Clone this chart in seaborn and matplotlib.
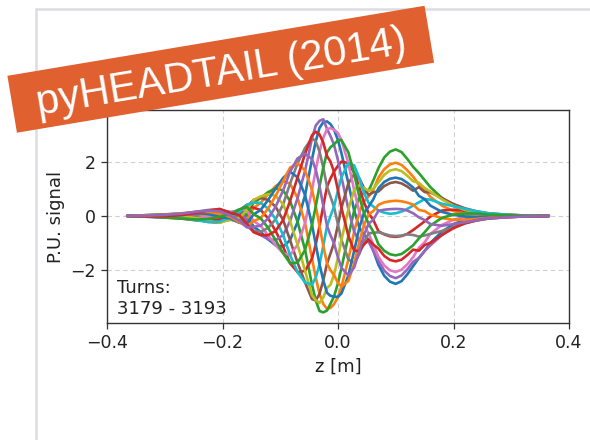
import matplotlib
matplotlib.use("Agg")
import matplotlib.pyplot as plt
from matplotlib.patches import Rectangle
from matplotlib.lines import Line2D
import pandas as pd
import seaborn as sns

# Longitudinal position along the bunch [m]
z_m = [-0.365, -0.33, -0.30, -0.27, -0.245, -0.225, -0.205, -0.186, -0.171, -0.158,
       -0.146, -0.134, -0.121, -0.108, -0.095, -0.083, -0.070, -0.057,
       -0.045, -0.0385, -0.032, -0.0255, -0.019, -0.013, -0.007, 0.0, 0.006,
       0.018, 0.028, 0.037, 0.045, 0.053, 0.061, 0.07, 0.08, 0.09, 0.10,
       0.11, 0.12, 0.13, 0.14, 0.15, 0.16, 0.18, 0.20, 0.22, 0.24,
       0.26, 0.29, 0.32, 0.365]

# Pick-up signal per turn
signal_3179 = [0, -0.03, -0.05, -0.05, -0.02, 0.07, 0.17, 0.14, 0.20, 0.04,
               -0.40, -0.58, -0.86, -1.08, -1.13, -0.89, -0.22, 0.77,
               2.09, 2.75, 3.24, 3.45, 3.48, 3.38, 3.18, 2.79, 2.31,
               1.20, 0.20, -0.43, -0.70, -0.87, -1.27, -1.80, -2.20, -2.42, -2.50,
               -2.40, -2.15, -1.85, -1.55, -1.29, -0.99, -0.58, -0.30, -0.14, -0.05,
               -0.03, -0.02, -0.01, 0]
signal_3180 = [0, 0.03, 0.05, 0.07, 0.05, -0.02, -0.13, -0.13, -0.23, -0.13,
               0.30, 0.48, 0.80, 1.10, 1.28, 1.19, 0.66, -0.26,
               -1.57, -2.27, -2.87, -3.24, -3.42, -3.38, -3.25, -2.98, -2.60,
               -1.60, -0.58, 0.14, 0.53, 0.72, 0.95, 1.41, 1.72, 1.90, 1.96,
               1.88, 1.68, 1.45, 1.15, 0.97, 0.70, 0.38, 0.18, 0.07, 0.02,
               0.01, 0.01, 0, 0]
signal_3181 = [0, 0.03, 0.04, 0.03, -0.02, -0.11, -0.21, -0.14, -0.17, 0.04,
               0.49, 0.66, 0.88, 1.01, 0.94, 0.55, -0.22, -1.25,
               -2.53, -3.11, -3.50, -3.55, -3.48, -3.23, -2.97, -2.47, -1.91,
               -0.74, 0.20, 0.70, 0.85, 0.93, 1.30, 1.76, 2.15, 2.37, 2.45,
               2.35, 2.10, 1.81, 1.58, 1.32, 1.06, 0.66, 0.36, 0.19, 0.09,
               0.05, 0.03, 0.01, 0]
signal_3182 = [0, -0.02, -0.05, -0.10, -0.16, -0.18, -0.13, 0.01, 0.20, 0.41,
               0.30, 0.22, -0.09, -0.55, -1.13, -1.74, -2.07, -2.02,
               -1.57, -1.05, -0.37, 0.37, 1.08, 1.38, 1.63, 1.85, 2.00,
               1.95, 1.60, 1.05, 0.50, 0.10, -0.14, -0.56, -0.68, -0.75, -0.77,
               -0.74, -0.66, -0.52, -0.36, -0.20, -0.02, 0.20, 0.23, 0.19, 0.14,
               0.08, 0.04, 0.02, 0]
signal_3183 = [0, -0.02, -0.03, -0.01, 0.05, 0.15, 0.24, 0.14, 0.13, -0.13,
               -0.55, -0.70, -0.86, -0.89, -0.70, -0.19, 0.66, 1.67,
               2.86, 3.33, 3.50, 3.56, 3.20, 2.94, 2.63, 2.04, 1.43,
               0.25, -0.58, -0.94, -0.96, -0.95, -1.27, -1.65, -2.01, -2.21, -2.29,
               -2.19, -1.97, -1.69, -1.55, -1.29, -1.08, -0.70, -0.41, -0.23, -0.11,
               -0.07, -0.03, -0.01, 0]
signal_3184 = [0, 0.01, -0.01, -0.05, -0.13, -0.22, -0.25, -0.09, 0.03, 0.34,
               0.59, 0.66, 0.59, 0.34, -0.15, -0.89, -1.72, -2.45,
               -3.06, -3.11, -2.87, -2.37, -1.75, -1.38, -1.00, -0.32, 0.30,
               1.20, 1.54, 1.38, 1.03, 0.77, 0.87, 0.90, 1.10, 1.21, 1.25,
               1.20, 1.08, 0.93, 1.06, 0.88, 0.87, 0.66, 0.44, 0.28, 0.17,
               0.10, 0.05, 0.02, 0]
signal_3185 = [0, -0.03, -0.06, -0.08, -0.08, -0.02, 0.08, 0.11, 0.24, 0.21,
               -0.19, -0.36, -0.71, -1.08, -1.37, -1.44, -1.06, -0.26,
               0.96, 1.70, 2.37, 2.87, 3.20, 3.23, 3.18, 3.05, 2.79,
               1.94, 0.95, 0.14, -0.33, -0.64, -1.05, -1.50, -1.82, -2.00, -2.06,
               -1.98, -1.78, -1.52, -1.17, -0.97, -0.66, -0.33, -0.14, -0.03, 0.02,
               0.01, 0.01, 0, 0]
signal_3186 = [0, 0, 0.02, 0.07, 0.15, 0.22, 0.24, 0.07, -0.08, -0.38,
               -0.55, -0.58, -0.44, -0.12, 0.43, 1.19, 1.94, 2.50,
               2.86, 2.75, 2.37, 1.78, 1.08, 0.71, 0.34, -0.32, -0.88,
               -1.60, -1.74, -1.40, -0.96, -0.64, -0.62, -0.60, -0.66, -0.72, -0.74,
               -0.72, -0.68, -0.70, -0.76, -0.72, -0.66, -0.55, -0.41, -0.27, -0.17,
               -0.10, -0.05, -0.02, 0]
signal_3187 = [0, 0.02, 0.02, -0.01, -0.08, -0.18, -0.25, -0.13, -0.08, 0.21,
               0.59, 0.72, 0.80, 0.74, 0.43, -0.19, -1.06, -2.02,
               -2.92, -3.10, -3.20, -3.00, -2.65, -2.53, -2.17, -1.53, -0.88,
               0.25, 0.95, 1.13, 1.03, 0.93, 1.00, 1.24, 1.51, 1.67, 1.72,
               1.65, 1.48, 1.28, 1.22, 1.03, 0.90, 0.61, 0.37, 0.22, 0.14,
               0.08, 0.04, 0.02, 0]
signal_3188 = [0, 0, -0.03, -0.08, -0.16, -0.22, -0.21, -0.04, 0.13, 0.41,
               0.49, 0.48, 0.27, -0.12, -0.70, -1.44, -2.07, -2.45,
               -2.53, -2.27, -1.78, -1.10, -0.37, 0.00, 0.34, 0.94, 1.43,
               1.94, 1.86, 1.38, 0.85, 0.48, 0.35, 0.20, 0.12, 0.08, 0.10,
               0.16, 0.26, 0.38, 0.50, 0.62, 0.60, 0.45, 0.36, 0.26, 0.17,
               0.10, 0.05, 0.02, 0]
signal_3189 = [0, 0.03, 0.06, 0.09, 0.11, 0.07, -0.03, -0.09, -0.25, -0.28,
               0.06, 0.22, 0.59, 1.01, 1.40, 1.63, 1.42, 0.77,
               -0.33, -1.05, -1.78, -2.37, -2.83, -2.94, -2.97, -2.98, -2.85,
               -2.19, -1.28, -0.43, 0.11, 0.34, 0.61, 1.02, 1.25, 1.37, 1.41,
               1.36, 1.22, 1.05, 0.74, 0.62, 0.38, 0.15, 0.04, -0.02, -0.04,
               -0.02, -0.01, -0.01, 0]
signal_3190 = [0, 0.02, 0.05, 0.10, 0.15, 0.15, 0.08, -0.04, -0.23, -0.38,
               -0.19, -0.08, 0.27, 0.74, 1.28, 1.78, 1.94, 1.67,
               0.96, 0.36, -0.37, -1.10, -1.75, -2.00, -2.17, -2.47, -2.60,
               -2.39, -1.74, -0.94, -0.33, 0.05, 0.18, 0.41, 0.50, 0.54, 0.56,
               0.54, 0.49, 0.42, 0.22, 0.18, 0.05, -0.08, -0.14, -0.14, -0.11,
               -0.07, -0.03, -0.01, 0]
signal_3191 = [0, -0.02, -0.06, -0.10, -0.13, -0.11, -0.03, 0.07, 0.24, 0.34,
               0.06, -0.08, -0.44, -0.89, -1.37, -1.74, -1.72, -1.25,
               -0.33, 0.36, 1.10, 1.78, 2.34, 2.53, 2.63, 2.79, 2.79,
               2.34, 1.54, 0.70, 0.11, -0.29, -0.57, -1.04, -1.28, -1.41, -1.45,
               -1.40, -1.25, -1.08, -0.83, -0.60, -0.35, -0.07, 0.05, 0.09, 0.09,
               0.05, 0.03, 0.01, 0]
signal_3192 = [0, -0.02, -0.01, 0.03, 0.11, 0.20, 0.26, 0.11, 0.03, -0.28,
               -0.60, -0.70, -0.71, -0.55, -0.15, 0.55, 1.42, 2.29,
               2.97, 3.10, 3.00, 2.70, 2.20, 2.00, 1.63, 0.94, 0.30,
               -0.74, -1.28, -1.29, -1.05, -0.87, -1.05, -1.20, -1.47, -1.62, -1.67,
               -1.61, -1.44, -1.24, -1.28, -1.07, -0.99, -0.70, -0.45, -0.27, -0.16,
               -0.09, -0.05, -0.02, 0]
signal_3193 = [0, 0.01, 0.04, 0.09, 0.16, 0.20, 0.17, 0.01, -0.17, -0.42,
               -0.40, -0.36, -0.09, 0.34, 0.94, 1.63, 2.12, 2.29,
               2.09, 1.70, 1.10, 0.37, -0.37, -0.71, -1.00, -1.53, -1.91,
               -2.19, -1.90, -1.29, -0.70, -0.29, -0.14, 0.19, 0.23, 0.25, 0.26,
               0.25, 0.20, 0.10, -0.05, -0.15, -0.30, -0.36, -0.30, -0.23, -0.16,
               -0.09, -0.05, -0.02, 0]

turns = list(range(3179, 3194))
signals = [signal_3179, signal_3180, signal_3181, signal_3182, signal_3183,
           signal_3184, signal_3185, signal_3186, signal_3187, signal_3188,
           signal_3189, signal_3190, signal_3191, signal_3192, signal_3193]

x_ticks = [-0.4, -0.2, 0.0, 0.2, 0.4]
y_ticks = [-2, 0, 2]
turns_label = "Turns:\n3179 - 3193"
banner_label = "pyHEADTAIL (2014)"

df = pd.concat(
    [pd.DataFrame({"z": z_m, "signal": sig, "turn": str(t)})
     for t, sig in zip(turns, signals)],
    ignore_index=True,
)

sns.set_theme(style="ticks")
plt.rcParams["font.family"] = ["DejaVu Sans"]

W, H = 590, 440
fig = plt.figure(figsize=(W / 100, H / 100), dpi=100)
fig.patch.set_facecolor("white")

ax = fig.add_axes([107 / W, 117 / H, 462 / W, 213 / H])
sns.lineplot(
    data=df, x="z", y="signal", hue="turn",
    hue_order=[str(t) for t in turns], palette="tab10",
    linewidth=1.9, legend=False, estimator=None, sort=False, ax=ax,
)
ax.set_xlim(-0.4, 0.4)
ax.set_ylim(-3.94, 3.90)
ax.set_xticks(x_ticks)
ax.set_yticks(y_ticks)
ax.grid(True, linestyle=(0, (4, 3)), color="#cfcfcf", linewidth=0.8)
ax.set_axisbelow(True)
ax.tick_params(labelsize=12.5, length=4.5, width=0.9,
               color="#333333", labelcolor="#222222")
for spine in ax.spines.values():
    spine.set_visible(True)
    spine.set_color("#333333")
    spine.set_linewidth(1.0)
ax.set_xlabel("z [m]", fontsize=13, color="#222222")
ax.set_ylabel("P.U. signal", fontsize=13, color="#222222")
ax.text(0.022, 0.025, turns_label, transform=ax.transAxes, fontsize=13,
        ha="left", va="bottom", color="#222222")

# Slide frame and title banner drawn in figure pixel units
over = fig.add_axes([0, 0, 1, 1], zorder=10)
over.set_xlim(0, W)
over.set_ylim(0, H)
over.axis("off")
over.patch.set_alpha(0)
frame_col = "#dcdce3"
over.add_line(Line2D([36, 36], [0, H - 8.7], color=frame_col, lw=1.8, zorder=1))
over.add_line(Line2D([36, W], [H - 8.7, H - 8.7], color=frame_col, lw=1.8, zorder=1))

cx, cy, bw, bh, ang = 220.75, H - 69.25, 423, 57.7, 9.53
over.add_patch(Rectangle((cx - bw / 2, cy - bh / 2), bw, bh, angle=ang,
                         rotation_point="center", facecolor="#e0602f",
                         edgecolor="none", zorder=2))
over.text(cx + 0.7, cy - 3.9, banner_label, rotation=ang, rotation_mode="anchor",
          ha="center", va="center", fontsize=30, color="white",
          family=["Liberation Sans", "DejaVu Sans"], zorder=3)

fig.savefig("out.png", dpi=100)
